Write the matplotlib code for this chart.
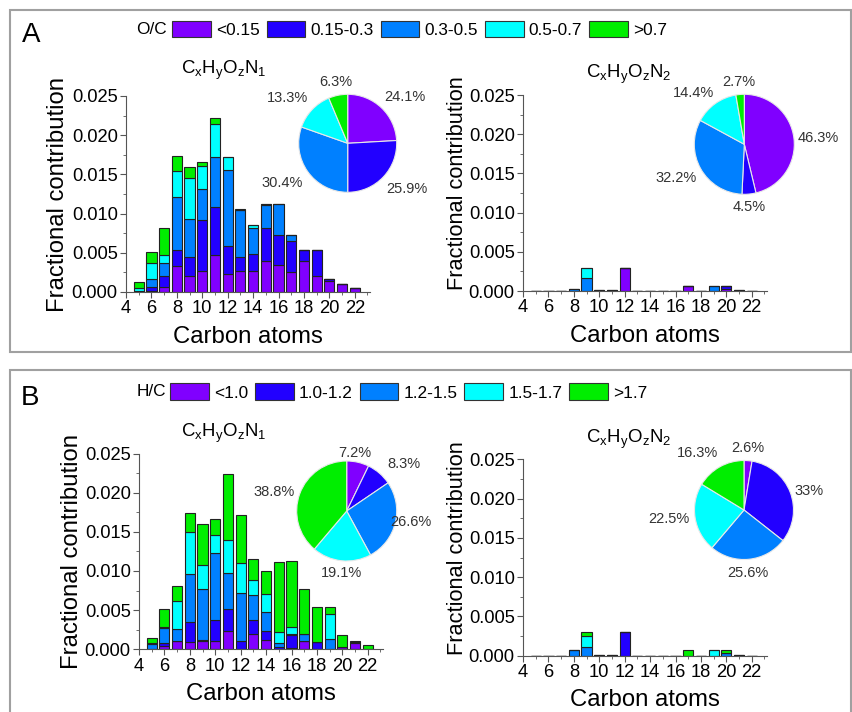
import numpy as np
import matplotlib
matplotlib.use('Agg')
import matplotlib.pyplot as plt
from matplotlib.patches import Patch, Rectangle
from matplotlib.ticker import MultipleLocator, FormatStrFormatter

plt.rcParams['font.family'] = ['Liberation Sans', 'DejaVu Sans']
plt.rcParams['mathtext.fontset'] = 'custom'
plt.rcParams['mathtext.rm'] = 'Liberation Sans'

W, H = 852, 712

# Data
carbon = np.arange(5, 23)

oc_labels = ['<0.15', '0.15-0.3', '0.3-0.5', '0.5-0.7', '>0.7']
hc_labels = ['<1.0', '1.0-1.2', '1.2-1.5', '1.5-1.7', '>1.7']
colors = ['#8000FF', '#2200FF', '#0080FF', '#00FFFF', '#00EE00']

# A: O/C classes, CxHyOzN1
oc1_lt015 = [0, 0.0001, 0.0007, 0.0033, 0.0020, 0.0027, 0.0047, 0.0023, 0.0027, 0.0027, 0.0040, 0.0034, 0.0026, 0.0040, 0.0020, 0.0014, 0.0010, 0.0005]
oc1_015_03 = [0, 0.0006, 0.0014, 0.0020, 0.0025, 0.0065, 0.0061, 0.0036, 0.0018, 0.0022, 0.0042, 0.0039, 0.0039, 0.0014, 0.0034, 0.0003, 0, 0]
oc1_03_05 = [0.0001, 0.0009, 0.0016, 0.0068, 0.0048, 0.0039, 0.0064, 0.0097, 0.0060, 0.0032, 0.0029, 0.0039, 0.0008, 0, 0, 0, 0, 0]
oc1_05_07 = [0.0004, 0.0021, 0.0010, 0.0033, 0.0053, 0.0030, 0.0042, 0.0016, 0, 0.0004, 0.0001, 0, 0, 0, 0, 0, 0, 0]
oc1_gt07 = [0.0008, 0.0014, 0.0034, 0.0019, 0.0014, 0.0005, 0.0008, 0, 0.0001, 0, 0, 0, 0, 0, 0, 0, 0, 0]

# A: O/C classes, CxHyOzN2
oc2_lt015 = [0, 0, 0, 0, 0, 0, 0, 0.0029, 0, 0, 0, 0, 0.0006, 0, 0, 0.0003, 0, 0]
oc2_015_03 = [0, 0, 0, 0, 0, 0, 0, 0, 0, 0, 0, 0, 0, 0, 0, 0.0003, 0, 0]
oc2_03_05 = [0, 0, 0, 0.0003, 0.0016, 0.0001, 0.0001, 0, 0, 0, 0, 0, 0, 0, 0.0006, 0, 0.0001, 0]
oc2_05_07 = [0, 0, 0, 0, 0.0013, 0, 0, 0, 0, 0, 0, 0, 0, 0, 0, 0, 0, 0]
oc2_gt07 = [0] * 18

# B: H/C classes, CxHyOzN1
hc1_lt10 = [0, 0.0004, 0.0010, 0.0009, 0.0011, 0.0011, 0.0023, 0.0001, 0.0020, 0.0012, 0.0001, 0.0002, 0.0010, 0.0001, 0, 0.0003, 0.0008, 0]
hc1_10_12 = [0, 0.0004, 0.0001, 0.0026, 0.0001, 0.0027, 0.0029, 0.0009, 0.0017, 0.0011, 0.0002, 0.0016, 0.0001, 0.0008, 0, 0, 0.0001, 0]
hc1_12_15 = [0.0007, 0.0019, 0.0015, 0.0061, 0.0065, 0.0085, 0.0046, 0.0062, 0.0032, 0.0024, 0.0005, 0.0001, 0.0008, 0, 0.0013, 0, 0, 0]
hc1_15_17 = [0.0001, 0.0001, 0.0036, 0.0054, 0.0031, 0.0023, 0.0041, 0.0038, 0.0019, 0.0024, 0.0014, 0.0010, 0, 0, 0.0032, 0, 0, 0]
hc1_gt17 = [0.0006, 0.0023, 0.0019, 0.0024, 0.0052, 0.0020, 0.0085, 0.0061, 0.0027, 0.0029, 0.0090, 0.0084, 0.0058, 0.0045, 0.0009, 0.0015, 0.0002, 0.0005]

# B: H/C classes, CxHyOzN2
hc2_lt10 = [0] * 18
hc2_10_12 = [0, 0, 0, 0, 0, 0, 0, 0.0030, 0, 0, 0, 0, 0, 0, 0, 0, 0, 0]
hc2_12_15 = [0, 0, 0, 0.0007, 0.0011, 0.0001, 0.0001, 0, 0, 0, 0, 0, 0, 0, 0, 0.0004, 0.0001, 0]
hc2_15_17 = [0, 0, 0, 0, 0.0014, 0, 0, 0, 0, 0, 0, 0, 0, 0, 0.0007, 0, 0, 0]
hc2_gt17 = [0, 0, 0, 0, 0.0005, 0, 0, 0, 0, 0, 0, 0, 0.0007, 0, 0, 0.0003, 0, 0]

# pie shares (%)
pie_oc1 = [24.1, 25.9, 30.4, 13.3, 6.3]
pie_oc2 = [46.3, 4.5, 32.2, 14.4, 2.7]
pie_hc1 = [7.2, 8.3, 26.6, 19.1, 38.8]
pie_hc2 = [2.6, 33, 25.6, 22.5, 16.3]

pie_txt_oc1 = ['24.1%', '25.9%', '30.4%', '13.3%', '6.3%']
pie_txt_oc2 = ['46.3%', '4.5%', '32.2%', '14.4%', '2.7%']
pie_txt_hc1 = ['7.2%', '8.3%', '26.6%', '19.1%', '38.8%']
pie_txt_hc2 = ['2.6%', '33%', '25.6%', '22.5%', '16.3%']


def frac(l, t, r, b):
    return [l / W, 1 - b / H, (r - l) / W, (b - t) / H]


def fx(x):
    return x / W


def fy(y):
    return 1 - y / H


fig = plt.figure(figsize=(W / 100, H / 100), dpi=100)

# panel frames
fig.add_artist(Rectangle((fx(10), fy(352)), fx(841), 342 / H, transform=fig.transFigure,
                         fill=False, edgecolor='#a0a0a0', linewidth=1.5))
fig.add_artist(Rectangle((fx(10), fy(716)), fx(841), 346 / H, transform=fig.transFigure,
                         fill=False, edgecolor='#a0a0a0', linewidth=1.5))


def bar_panel(rect, series, title, title_xy, lab_x, lab_fs, lab_y=0.5):
    ax = fig.add_axes(frac(*rect))
    bottom = np.zeros(len(carbon))
    for vals, c in zip(series, colors):
        vals = np.array(vals)
        ax.bar(carbon, vals, width=0.8, bottom=bottom, color=c,
               edgecolor='#222222', linewidth=0.8)
        bottom += vals
    ax.set_xlim(4, 23.2)
    ax.set_ylim(0, 0.025)
    ax.xaxis.set_major_locator(MultipleLocator(2))
    ax.xaxis.set_minor_locator(MultipleLocator(1))
    ax.yaxis.set_major_locator(MultipleLocator(0.005))
    ax.yaxis.set_minor_locator(MultipleLocator(0.0025))
    ax.yaxis.set_major_formatter(FormatStrFormatter('%.3f'))
    for s in ['top', 'right']:
        ax.spines[s].set_visible(False)
    for s in ['left', 'bottom']:
        ax.spines[s].set_color('#555555')
    ax.tick_params(which='both', direction='out', color='#555555', labelsize=13.2, pad=2)
    ax.tick_params(which='major', length=4)
    ax.tick_params(which='minor', length=2)
    ax.set_xlabel('Carbon atoms', fontsize=17.2)
    ax.xaxis.set_label_coords(0.5, -0.172)
    ax.set_ylabel('Fractional contribution', fontsize=lab_fs)
    w = rect[2] - rect[0]
    ax.yaxis.set_label_coords(lab_x / w, lab_y)
    fig.text(fx(title_xy[0]), fy(title_xy[1]), title, fontsize=13.4, ha='center', va='center')
    return ax


def pie_panel(cx, cy, r, vals, texts, text_xy):
    ax = fig.add_axes(frac(cx - r, cy - r, cx + r, cy + r))
    ax.pie(vals, colors=colors, startangle=90, counterclock=False,
           wedgeprops=dict(edgecolor='#e8e8e8', linewidth=0.8))
    ax.set_xlim(-1, 1)
    ax.set_ylim(-1, 1)
    ax.set_aspect('equal')
    for t, (x, y) in zip(texts, text_xy):
        fig.text(fx(x), fy(y), t, fontsize=10.5, color='#333333', ha='center', va='center')


t1 = r'C$_\mathregular{x}$H$_\mathregular{y}$O$_\mathregular{z}$N$_\mathregular{1}$'
t2 = r'C$_\mathregular{x}$H$_\mathregular{y}$O$_\mathregular{z}$N$_\mathregular{2}$'

bar_panel((126, 96, 370, 292), [oc1_lt015, oc1_015_03, oc1_03_05, oc1_05_07, oc1_gt07],
          t1, (224, 70), -57, 17.2)
bar_panel((523, 95, 767, 291), [oc2_lt015, oc2_015_03, oc2_03_05, oc2_05_07, oc2_gt07],
          t2, (629, 74), -55, 15.7, 0.55)
bar_panel((139, 453.5, 383, 649.3), [hc1_lt10, hc1_10_12, hc1_12_15, hc1_15_17, hc1_gt17],
          t1, (224, 433), -56, 17.2)
bar_panel((523, 459.3, 767, 655.7), [hc2_lt10, hc2_10_12, hc2_12_15, hc2_15_17, hc2_gt17],
          t2, (629, 439), -55, 15.7, 0.55)

pie_panel(347.7, 143.3, 49, pie_oc1, pie_txt_oc1,
          [(405, 97), (407, 189), (282, 183), (287, 98), (336, 82)])
pie_panel(744.3, 144.3, 50, pie_oc2, pie_txt_oc2,
          [(818, 138), (749, 207), (676, 178), (693, 93), (739, 82)])
pie_panel(346.7, 511, 50, pie_hc1, pie_txt_hc1,
          [(355, 453), (404, 464), (411, 522), (341, 573), (274, 492)])
pie_panel(744, 510, 49.5, pie_hc2, pie_txt_hc2,
          [(748, 448), (809, 491), (748, 573), (669, 519), (697, 453)])

# legends
def legend_row(name, labels, x_name, x0, yc):
    fig.text(fx(x_name), fy(yc), name, fontsize=12.4, ha='right', va='center')
    handles = [Patch(facecolor=c, edgecolor='#333333', linewidth=0.8) for c in colors]
    fig.legend(handles, labels, ncol=5, loc='center left', bbox_to_anchor=(fx(x0), fy(yc)),
               frameon=False, fontsize=12.4, handlelength=2.25, handleheight=1.1,
               handletextpad=0.3, columnspacing=0.4, borderpad=0, borderaxespad=0)


legend_row('O/C', oc_labels, 167, 172, 29.5)
legend_row('H/C', hc_labels, 166, 170, 392)

fig.text(fx(31), fy(35), 'A', fontsize=20, ha='center', va='center')
fig.text(fx(30), fy(398), 'B', fontsize=20, ha='center', va='center')

fig.savefig('out.png', dpi=100)
